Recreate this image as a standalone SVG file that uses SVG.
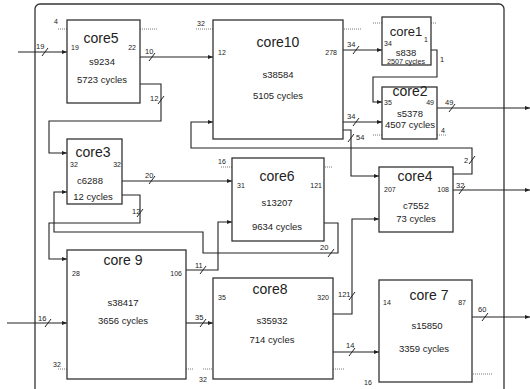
<svg xmlns="http://www.w3.org/2000/svg" width="530" height="389" viewBox="0 0 530 389">
<defs>
<marker id="ah" markerWidth="5" markerHeight="4" refX="5" refY="2" orient="auto" markerUnits="userSpaceOnUse">
<path d="M0,0 L5,2 L0,4 z" fill="#222"/>
</marker>
<style>
.box{fill:#fff;stroke:#333;stroke-width:1.3}
.ttl{font-family:"Liberation Sans",Arial,sans-serif;font-size:14px;fill:#222;text-anchor:middle}
.bd{font-family:"Liberation Sans",Arial,sans-serif;font-size:9.5px;fill:#222;text-anchor:middle}
.pin{font-family:"Liberation Sans",Arial,sans-serif;font-size:7px;fill:#222}
.end{text-anchor:end}
.dot{stroke:#555;stroke-width:0.8;stroke-dasharray:1,1;fill:none}
.w{fill:none;stroke:#222;stroke-width:1.1}
.a{marker-end:url(#ah)}
.sl{stroke:#222;stroke-width:1}
.bl{font-family:"Liberation Sans",Arial,sans-serif;font-size:7.5px;fill:#222}
</style>
</defs>
<rect width="530" height="389" fill="#fff"/>
<rect x="35" y="4" width="469" height="392" rx="5" fill="none" stroke="#333" stroke-width="1.3"/>

<g id="connectors">
<path class="w a" d="M18,52 H67"/>
<path class="w a" d="M140,57 H213"/>
<path class="w a" d="M140,84 H161 V121 H49 V153 H67"/>
<path class="w a" d="M343,50 H382"/>
<path class="w a" d="M431,50 H437 V77 H373 V102 H382"/>
<path class="w a" d="M343,122 H382"/>
<path class="w a" d="M343,130 H351 V176 H379"/>
<path class="w a" d="M437,108 H530"/>
<path class="w a" d="M453,174 H472 V148 H191 V122 H213"/>
<path class="w a" d="M453,190 H530"/>
<path class="w a" d="M122,181 H232"/>
<path class="w a" d="M122,195 H140 V223 H49 V259 H67"/>
<path class="w a" d="M324,223 H338 V253 H203 V232 H54 V192 H67"/>
<path class="w a" d="M186,270 H218 V222 H232"/>
<path class="w a" d="M186,323 H213"/>
<path class="w a" d="M333,314 H352 V219 H379"/>
<path class="w a" d="M333,352 H379"/>
<path class="w a" d="M472,317 H530"/>
<path class="w a" d="M7,323 H67"/>
<g class="sl">
<line x1="42" y1="56" x2="48" y2="48"/>
<line x1="149" y1="61" x2="155" y2="53"/>
<line x1="158" y1="104" x2="164" y2="96"/>
<line x1="353" y1="54" x2="359" y2="46"/>
<line x1="353" y1="126" x2="359" y2="118"/>
<line x1="348" y1="142" x2="354" y2="134"/>
<line x1="449" y1="112" x2="455" y2="104"/>
<line x1="469" y1="164" x2="475" y2="156"/>
<line x1="459" y1="194" x2="465" y2="186"/>
<line x1="149" y1="184" x2="155" y2="176"/>
<line x1="137" y1="217" x2="143" y2="209"/>
<line x1="328" y1="257" x2="334" y2="249"/>
<line x1="200" y1="274" x2="206" y2="266"/>
<line x1="200" y1="327" x2="206" y2="319"/>
<line x1="349" y1="300" x2="355" y2="292"/>
<line x1="349" y1="356" x2="355" y2="348"/>
<line x1="482" y1="321" x2="488" y2="313"/>
<line x1="45" y1="327" x2="51" y2="319"/>
</g>
<g class="bl">
<text x="36" y="49">19</text>
<text x="145" y="54">10</text>
<text x="150" y="101">12</text>
<text x="347" y="47">34</text>
<text x="440" y="62">1</text>
<text x="347" y="119">34</text>
<text x="356" y="140">54</text>
<text x="445" y="105">49</text>
<text x="464" y="163">2</text>
<text x="456" y="188">32</text>
<text x="145" y="178">20</text>
<text x="132" y="214">12</text>
<text x="320" y="250">20</text>
<text x="195" y="268">11</text>
<text x="195" y="320">35</text>
<text x="338" y="297">121</text>
<text x="346" y="348">14</text>
<text x="478" y="312">60</text>
<text x="38" y="321">16</text>
</g>
</g>

<g id="core5">
<line class="dot" x1="58" y1="29" x2="158" y2="29"/>
<text class="pin" x="54" y="24">4</text>
<rect class="box" x="67" y="20" width="73" height="83"/>
<text class="ttl" x="101" y="43">core5</text>
<text class="pin" x="71" y="50">19</text>
<text class="pin end" x="136" y="50">22</text>
<text class="bd" x="102" y="65">s9234</text>
<text class="bd" x="102" y="83">5723 cycles</text>
</g>

<g id="core10">
<line class="dot" x1="196" y1="29" x2="362" y2="29"/>
<text class="pin" x="197" y="26">32</text>
<rect class="box" x="213" y="20" width="130" height="119"/>
<text class="ttl" x="278" y="47">core10</text>
<text class="pin" x="218" y="55">12</text>
<text class="pin end" x="337" y="55">278</text>
<text class="bd" x="278" y="78">s38584</text>
<text class="bd" x="278" y="99">5105 cycles</text>
</g>

<g id="core1">
<line class="dot" x1="373" y1="23" x2="437" y2="23"/>
<rect class="box" x="382" y="17" width="49" height="48"/>
<text class="ttl" x="406" y="36" style="font-size:13px">core1</text>
<text class="pin" x="384" y="46">34</text>
<text class="pin" x="424" y="42">1</text>
<text class="bd" x="406" y="56">s838</text>
<text class="bd" x="406" y="64" style="font-size:7.2px">2507 cycles</text>
</g>

<g id="core2">
<line class="dot" x1="373" y1="135" x2="447" y2="135"/>
<text class="pin" x="441" y="133">4</text>
<rect class="box" x="382" y="87" width="55" height="52"/>
<text class="ttl" x="410" y="96">core2</text>
<text class="pin" x="384" y="105">35</text>
<text class="pin end" x="434" y="105">49</text>
<text class="bd" x="410" y="117">s5378</text>
<text class="bd" x="410" y="128">4507 cycles</text>
</g>

<g id="core3">
<rect class="box" x="67" y="139" width="55" height="65"/>
<text class="ttl" x="93" y="157">core3</text>
<text class="pin" x="70" y="167">32</text>
<text class="pin end" x="121" y="167">32</text>
<text class="bd" x="90" y="184">c6288</text>
<text class="bd" x="93" y="200">12 cycles</text>
</g>

<g id="core6">
<line class="dot" x1="221" y1="167" x2="333" y2="167"/>
<text class="pin" x="218" y="164">16</text>
<rect class="box" x="232" y="158" width="92" height="83"/>
<text class="ttl" x="277" y="181">core6</text>
<text class="pin" x="237" y="188">31</text>
<text class="pin end" x="322" y="188">121</text>
<text class="bd" x="277" y="206">s13207</text>
<text class="bd" x="277" y="230">9634 cycles</text>
</g>

<g id="core4">
<rect class="box" x="379" y="167" width="74" height="65"/>
<text class="ttl" x="415" y="181">core4</text>
<text class="pin" x="384" y="192">207</text>
<text class="pin end" x="449" y="192">108</text>
<text class="bd" x="416" y="209">c7552</text>
<text class="bd" x="416" y="222">73 cycles</text>
</g>

<g id="core9">
<line class="dot" x1="58" y1="369" x2="193" y2="369"/>
<text class="pin" x="53" y="367">32</text>
<rect class="box" x="67" y="250" width="119" height="129"/>
<text class="ttl" x="123" y="265">core 9</text>
<text class="pin" x="72" y="276">28</text>
<text class="pin end" x="182" y="276">106</text>
<text class="bd" x="123" y="306">s38417</text>
<text class="bd" x="123" y="324">3656 cycles</text>
</g>

<g id="core8">
<line class="dot" x1="203" y1="369" x2="345" y2="369"/>
<text class="pin" x="199" y="382">32</text>
<rect class="box" x="213" y="278" width="120" height="101"/>
<text class="ttl" x="270" y="294">core8</text>
<text class="pin" x="218" y="300">35</text>
<text class="pin end" x="329" y="300">320</text>
<text class="bd" x="272" y="324">s35932</text>
<text class="bd" x="272" y="343">714 cycles</text>
</g>

<g id="core7">
<line class="dot" x1="379" y1="374" x2="492" y2="374"/>
<text class="pin" x="364" y="385">16</text>
<rect class="box" x="379" y="280" width="93" height="102"/>
<text class="ttl" x="429" y="300">core 7</text>
<text class="pin" x="383" y="305">14</text>
<text class="pin end" x="466" y="305">87</text>
<text class="bd" x="427" y="329">s15850</text>
<text class="bd" x="424" y="352">3359 cycles</text>
</g>
</svg>
